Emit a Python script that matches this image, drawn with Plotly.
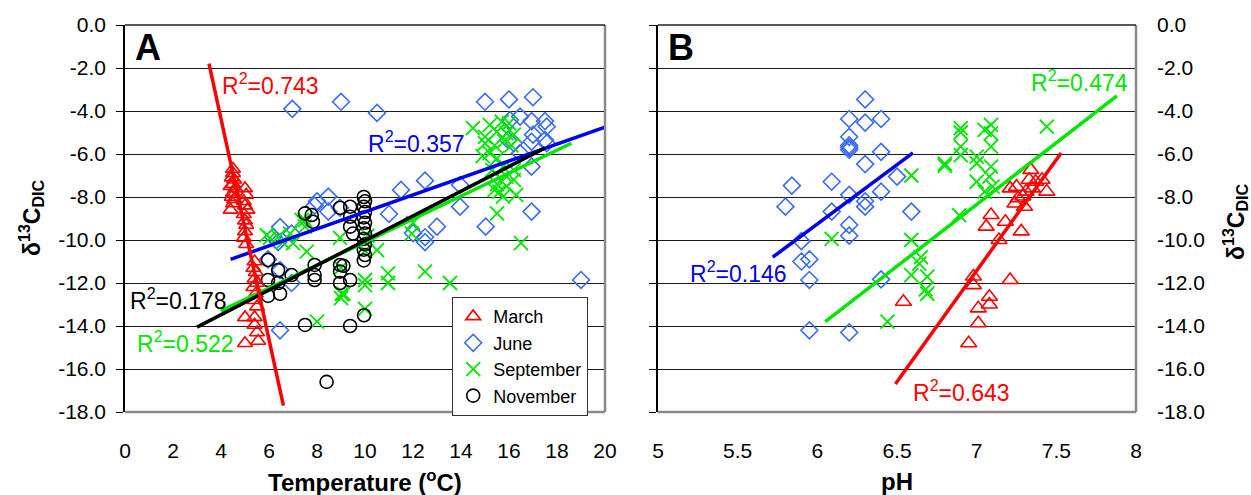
import plotly.graph_objects as go

# ---------------- Data ----------------
# Panel A: Temperature (oC) vs d13C_DIC
mar_T = [4.5, 4.5, 4.45, 4.55, 4.5, 4.4, 4.6, 4.5, 4.45, 4.55, 4.5, 4.4,
         5.0, 5.05, 4.95, 5.0, 5.1, 4.95, 5.0, 5.05, 5.0, 4.95, 5.05,
         5.4, 5.35, 5.45, 5.4, 5.5, 5.35, 5.45, 5.4, 5.5, 5.4, 5.4, 5.5, 5.55,
         5.0, 5.0]
mar_Ta = [-6.7, -6.9, -7.1, -7.2, -7.4, -7.5, -7.6, -7.8, -8.0, -8.1, -8.3, -8.6,
          -7.6, -7.9, -8.2, -8.4, -8.6, -8.8, -9.1, -9.3, -9.6, -9.9, -10.2,
          -11.0, -11.3, -11.5, -11.8, -12.0, -12.2, -12.5, -12.8, -13.1, -13.6, -13.95, -14.3, -14.7,
          -13.6, -14.8]

jun_T = [6.97, 9.0, 10.5, 15.0, 16.0, 17.0, 16.46, 16.04, 16.94, 17.5, 17.57, 17.0,
         17.5, 16.94, 17.57, 15.96, 16.2, 16.46, 16.94, 15.5, 13.96, 12.5, 11.5, 11.0,
         13.0, 15.03, 13.96, 12.0, 12.5, 12.5, 16.94, 19.0, 8.0, 7.9, 8.47, 8.47, 8.96,
         6.46, 6.94, 6.17, 6.38, 5.96, 6.46, 6.94, 6.46]
jun_Ta = [-3.9, -3.57, -4.09, -3.57, -3.46, -3.36, -4.26, -4.42, -4.47, -4.47, -4.73, -5.1,
          -5.35, -5.43, -5.5, -5.35, -5.5, -5.96, -6.59, -6.6, -7.44, -7.24, -7.67, -8.79,
          -9.38, -9.38, -8.45, -9.68, -9.87, -10.1, -8.68, -11.86, -8.2, -8.4, -7.98, -8.68, -8.5,
          -9.4, -9.7, -9.85, -10.1, -10.9, -11.4, -12.0, -14.2]

sep_T = [14.5, 15.2, 15.7, 16.0, 15.0, 15.5, 15.9, 16.2, 15.0, 15.4, 15.8, 16.1,
         14.9, 15.2, 15.5, 15.3, 15.75, 16.2, 15.9, 15.5, 15.9, 16.2, 15.6, 15.75,
         15.4, 16.3, 15.5, 16.5, 12.0, 11.95, 10.5, 10.96, 10.96, 12.5, 13.54, 10.0,
         10.0, 9.1, 10.0, 6.04, 6.58, 7.0, 6.88, 7.5, 7.5, 7.57, 8.96, 9.03, 8.0,
         5.9, 6.38, 7.36, 9.0, 9.0, 10.0, 10.1]
sep_Ta = [-4.8, -4.65, -4.5, -4.57, -5.2, -4.96, -5.04, -5.1, -5.5, -5.6, -5.4, -5.6,
          -6.1, -5.96, -6.2, -6.74, -6.59, -6.74, -7.05, -7.4, -7.5, -7.2, -7.75, -7.98,
          -7.67, -7.9, -8.76, -10.15, -9.2, -9.7, -10.47, -11.55, -12.0, -11.47, -12.0, -11.86,
          -12.1, -12.5, -13.2, -9.9, -10.1, -10.15, -9.7, -9.38, -9.07, -10.54, -9.9, -12.5, -13.8,
          -9.77, -9.86, -9.07, -11.3, -12.7, -10.5, -9.8]

nov_T = [7.5, 7.83, 7.78, 8.96, 9.38, 9.38, 9.38, 9.5, 5.96, 6.38, 5.96, 6.38, 5.96, 6.46,
         6.94, 7.9, 7.9, 7.9, 8.96, 8.96, 8.96, 9.38, 9.38, 7.5, 8.4, 9.96, 9.1,
         9.95, 10.0, 9.95, 10.0, 9.95, 10.0, 9.95, 10.0, 9.95, 10.0, 9.95, 10.0, 9.95]
nov_Ta = [-8.76, -9.15, -8.84, -8.5, -8.45, -8.92, -9.38, -9.7, -10.93, -11.4, -11.86, -12.0, -12.6, -12.5,
          -11.63, -11.16, -11.63, -11.86, -11.16, -11.47, -12.0, -11.86, -14.0, -13.95, -16.6, -13.5, -11.2,
          -8.0, -8.2, -8.45, -8.7, -8.95, -9.2, -9.45, -9.7, -9.95, -10.2, -10.45, -10.7, -10.95]

# Regression lines, panel A (end points)
mar_fitA_x, mar_fitA_y = [3.5, 6.6], [-1.8, -17.7]
jun_fitA_x, jun_fitA_y = [4.4, 20.0], [-10.9, -4.75]
sep_fitA_x, sep_fitA_y = [4.0, 18.6], [-13.3, -5.5]
nov_fitA_x, nov_fitA_y = [3.0, 17.5], [-14.05, -5.72]

# Panel B: pH vs d13C_DIC
mar_pH = [6.54, 6.95, 6.98, 6.98, 7.01, 7.01, 7.08, 7.08, 7.21, 7.06, 7.09, 7.14, 7.18, 7.28,
          7.21, 7.25, 7.26, 7.24, 7.30, 7.34, 7.33, 7.37, 7.41, 7.44, 7.35, 7.31, 7.29]
mar_pHd = [-12.87, -14.8, -11.7, -12.1, -13.18, -13.87, -12.64, -13.0, -11.86, -9.38, -8.84, -10.0, -9.15, -9.6,
           -7.6, -7.52, -8.06, -8.3, -8.45, -6.74, -7.2, -7.29, -7.2, -7.75, -7.6, -7.75, -7.98]

jun_pH = [6.30, 6.20, 6.30, 6.40, 6.20, 6.20, 6.20, 6.20, 6.40, 6.30, 6.50, 5.84, 5.80, 6.09,
          6.20, 6.40, 6.30, 6.30, 6.09, 6.59, 6.20, 6.20, 5.90, 5.90, 5.95, 5.95, 6.40, 5.95, 6.20]
jun_pHd = [-3.46, -4.37, -4.54, -4.37, -5.2, -5.6, -5.7, -5.8, -5.9, -6.47, -7.05, -7.47, -8.45, -7.29,
           -7.9, -7.75, -8.2, -8.45, -8.68, -8.68, -9.3, -9.8, -10.05, -11.0, -10.9, -11.86, -11.83, -14.2, -14.3]

sep_pH = [6.09, 6.59, 6.90, 6.90, 7.05, 7.09, 7.09, 7.44, 6.90, 6.90, 6.80, 6.80, 7.0, 7.0,
          7.09, 7.09, 7.08, 7.10, 7.05, 7.0, 6.89, 6.59, 6.65, 6.64, 6.69, 6.68, 6.69, 6.59, 6.44]
sep_pHd = [-9.95, -7.0, -4.8, -5.0, -4.88, -4.65, -5.04, -4.73, -5.66, -6.05, -6.45, -6.55, -6.12, -6.43,
           -5.66, -6.59, -7.05, -7.52, -7.75, -7.29, -8.84, -10.0, -10.8, -11.1, -11.7, -12.3, -12.5, -11.63, -13.8]

# Regression lines, panel B
mar_fitB_x, mar_fitB_y = [6.49, 7.53], [-16.7, -5.95]
jun_fitB_x, jun_fitB_y = [5.72, 6.60], [-10.8, -5.95]
sep_fitB_x, sep_fitB_y = [6.05, 7.88], [-13.8, -3.3]

# Tick labels
y_ticks = [0, -2, -4, -6, -8, -10, -12, -14, -16, -18]
y_ticktext = ["0.0", "-2.0", "-4.0", "-6.0", "-8.0", "-10.0", "-12.0", "-14.0", "-16.0", "-18.0"]
xA_ticks = [0, 2, 4, 6, 8, 10, 12, 14, 16, 18, 20]
xB_ticks = [5, 5.5, 6, 6.5, 7, 7.5, 8]
xB_ticktext = ["5", "5.5", "6", "6.5", "7", "7.5", "8"]

# ---------------- Styling ----------------
W, H = 1251, 495
FONT = "Liberation Sans, Arial, sans-serif"
RED = "#FF0000"
JUNE = "#3B6CF6"
BLUE_LINE = "#0000EE"
GREEN = "#00E600"
BLACK = "#000000"

def px_x(p):
    return p / W

def px_y(p):
    return 1 - p / H

fig = go.Figure()

def markers(x, y, name, symbol, color, size, xa, ya, show, lw=1.6):
    fig.add_trace(go.Scatter(
        x=x, y=y, mode="markers", name=name, showlegend=show,
        xaxis=xa, yaxis=ya,
        marker=dict(symbol=symbol, size=size, color=color,
                    line=dict(color=color, width=lw)),
    ))

def fitline(x, y, color, xa, ya):
    fig.add_trace(go.Scatter(
        x=x, y=y, mode="lines", showlegend=False, xaxis=xa, yaxis=ya,
        line=dict(color=color, width=3.5), hoverinfo="skip",
    ))

# Panel A
markers(jun_T, jun_Ta, "June", "diamond-open", JUNE, 13, "x", "y", True)
markers(sep_T, sep_Ta, "September", "x-thin-open", GREEN, 14, "x", "y", True, lw=1.8)
markers(nov_T, nov_Ta, "November", "circle-open", BLACK, 13, "x", "y", True)
markers(mar_T, mar_Ta, "March", "triangle-up-open", RED, 13, "x", "y", True)
fitline(jun_fitA_x, jun_fitA_y, BLUE_LINE, "x", "y")
fitline(sep_fitA_x, sep_fitA_y, GREEN, "x", "y")
fitline(nov_fitA_x, nov_fitA_y, BLACK, "x", "y")
fitline(mar_fitA_x, mar_fitA_y, RED, "x", "y")

# Panel B
markers(jun_pH, jun_pHd, "June", "diamond-open", JUNE, 13, "x2", "y2", False)
markers(sep_pH, sep_pHd, "September", "x-thin-open", GREEN, 14, "x2", "y2", False, lw=1.8)
markers(mar_pH, mar_pHd, "March", "triangle-up-open", RED, 14, "x2", "y2", False)
fitline(jun_fitB_x, jun_fitB_y, BLUE_LINE, "x2", "y2")
fitline(sep_fitB_x, sep_fitB_y, GREEN, "x2", "y2")
fitline(mar_fitB_x, mar_fitB_y, RED, "x2", "y2")

ydom = [px_y(412), px_y(25)]
xdomA = [px_x(125), px_x(605)]
xdomB = [px_x(658), px_x(1136)]
tickfont = dict(family=FONT, size=21, color="black")

common_y = dict(range=[-18, 0], domain=ydom, tickvals=y_ticks, ticktext=y_ticktext,
                showgrid=True, gridcolor="#1a1a1a", gridwidth=1, zeroline=False,
                showline=True, linecolor="black", linewidth=1.5,
                ticks="outside", ticklen=7, tickcolor="black", tickfont=tickfont)

fig.update_layout(
    width=W, height=H, margin=dict(l=0, r=0, t=0, b=0, pad=0, autoexpand=False),
    paper_bgcolor="white", plot_bgcolor="white",
    font=dict(family=FONT, color="black"),
    xaxis=dict(domain=xdomA, range=[0, 20], tickvals=xA_ticks, showgrid=False,
               zeroline=False, showline=False, ticks="", tickfont=tickfont,
               ticklabelstandoff=24, anchor="y", automargin=False),
    yaxis=dict(anchor="x", ticklabelstandoff=6, automargin=False, **common_y),
    xaxis2=dict(domain=xdomB, range=[5, 8], tickvals=xB_ticks, ticktext=xB_ticktext,
                showgrid=False, zeroline=False, showline=False, ticks="",
                tickfont=tickfont, ticklabelstandoff=24, anchor="y2", automargin=False),
    yaxis2=dict(anchor="x2", showticklabels=False, automargin=False, **common_y),
    yaxis3=dict(overlaying="y2", anchor="x2", side="right", range=[-18, 0],
                tickvals=y_ticks, ticktext=y_ticktext, showgrid=False,
                zeroline=False, showline=False, ticks="", tickfont=tickfont,
                ticklabelstandoff=20, automargin=False),
    legend=dict(x=px_x(452), y=px_y(297), xanchor="left", yanchor="top",
                bgcolor="white", bordercolor="#333333", borderwidth=1.2,
                font=dict(family=FONT, size=18, color="black"),
                traceorder="normal", tracegroupgap=0, itemwidth=30),
)

# dummy trace to activate the right-hand axis of panel B
fig.add_trace(go.Scatter(x=[5], y=[0], xaxis="x2", yaxis="y3", mode="markers",
                         marker=dict(opacity=0), showlegend=False, hoverinfo="skip"))

# legend order: March, June, September, November
order = {"March": 0, "June": 1, "September": 2, "November": 3}
for tr in fig.data:
    if tr.showlegend and tr.name in order:
        tr.legendrank = order[tr.name] + 1

# Frame edges (gray right/bottom, dark top)
shapes = []
for xr, yr in (("x domain", "y domain"), ("x2 domain", "y2 domain")):
    shapes.append(dict(type="line", xref=xr, yref=yr, x0=1, x1=1, y0=0, y1=1,
                       line=dict(color="#8a8a8a", width=2.5), layer="above"))
    shapes.append(dict(type="line", xref=xr, yref=yr, x0=0, x1=1, y0=0, y1=0,
                       line=dict(color="#8a8a8a", width=2.5), layer="above"))
    shapes.append(dict(type="line", xref=xr, yref=yr, x0=0, x1=1, y0=1, y1=1,
                       line=dict(color="#222222", width=1.5), layer="above"))
fig.update_layout(shapes=shapes)

ann = []
def label(text, x, y, xref, yref, color, size=23, xanchor="left", bold=False, angle=0):
    ann.append(dict(text=f"<b>{text}</b>" if bold else text, x=x, y=y, xref=xref, yref=yref,
                    showarrow=False, xanchor=xanchor, yanchor="middle", textangle=angle,
                    font=dict(family=FONT, size=size, color=color)))

# R^2 labels
label("R<sup>2</sup>=0.743", 3.95, -2.75, "x", "y", RED)
label("R<sup>2</sup>=0.357", 10.05, -5.45, "x", "y", BLUE_LINE)
label("R<sup>2</sup>=0.178", 0.12, -12.75, "x", "y", BLACK)
label("R<sup>2</sup>=0.522", 0.40, -14.75, "x", "y", GREEN)
label("R<sup>2</sup>=0.146", 5.19, -11.5, "x2", "y2", BLUE_LINE)
label("R<sup>2</sup>=0.643", 6.585, -17.0, "x2", "y2", RED)
label("R<sup>2</sup>=0.474", 7.33, -2.6, "x2", "y2", GREEN)

# Panel letters
label("A", px_x(148), px_y(48), "paper", "paper", "black", size=36, xanchor="center", bold=True)
label("B", px_x(681), px_y(48), "paper", "paper", "black", size=36, xanchor="center", bold=True)

# Axis titles
label("Temperature (<sup>o</sup>C)", px_x(365), px_y(481), "paper", "paper", "black",
      size=24, xanchor="center", bold=True)
label("pH", px_x(897), px_y(481), "paper", "paper", "black", size=24, xanchor="center", bold=True)
label("δ<sup>13</sup>C<sub>DIC</sub>", px_x(31), px_y(218), "paper", "paper", "black",
      size=23, xanchor="center", bold=True, angle=-90)
label("δ<sup>13</sup>C<sub>DIC</sub>", px_x(1235), px_y(222), "paper", "paper", "black",
      size=23, xanchor="center", bold=True, angle=-90)

fig.update_layout(annotations=ann)
fig.write_html("out.html")
